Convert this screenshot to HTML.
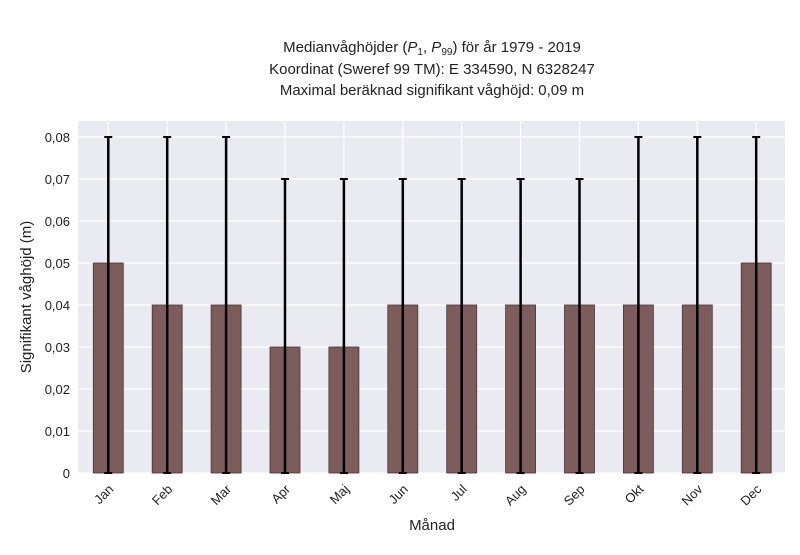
<!DOCTYPE html>
<html><head><meta charset="utf-8"><style>
body{margin:0;background:#fff;}
svg text{font-family:"Liberation Sans",sans-serif;fill:#222;}
</style></head><body>
<svg id="chart" width="800" height="550" xmlns="http://www.w3.org/2000/svg">
<rect x="78" y="121" width="707" height="352" fill="#eaeaf2"/>
<g id="grid"></g><g id="bars"></g><g id="errs"></g><g id="yticks"></g><g id="xticks"></g>
<text x="432" y="52" font-size="15" text-anchor="middle">Medianvåghöjder (<tspan font-style="italic">P</tspan><tspan font-size="10" dy="3">1</tspan><tspan dy="-3">, </tspan><tspan font-style="italic">P</tspan><tspan font-size="10" dy="3">99</tspan><tspan dy="-3">) för år 1979 - 2019</tspan></text>
<text x="432" y="74" font-size="15" text-anchor="middle">Koordinat (Sweref 99 TM): E 334590, N 6328247</text>
<text x="432" y="95" font-size="15" text-anchor="middle">Maximal beräknad signifikant våghöjd: 0,09 m</text>
<text transform="translate(31,297) rotate(-90)" font-size="15" text-anchor="middle">Signifikant våghöjd (m)</text>
<text x="432" y="530" font-size="15" text-anchor="middle">Månad</text>
</svg>
<script>
const months=["Jan","Feb","Mar","Apr","Maj","Jun","Jul","Aug","Sep","Okt","Nov","Dec"];
const medians=[0.05,0.04,0.04,0.03,0.03,0.04,0.04,0.04,0.04,0.04,0.04,0.05];
const p99=[0.08,0.08,0.08,0.07,0.07,0.07,0.07,0.07,0.07,0.08,0.08,0.08];
const p1=[0,0,0,0,0,0,0,0,0,0,0,0];
const yTicks=[0,0.01,0.02,0.03,0.04,0.05,0.06,0.07,0.08];
const NS="http://www.w3.org/2000/svg";
const y=v=>473-v*4200;
const x=i=>108.3+i*58.9;
function mk(t,a,p){const e=document.createElementNS(NS,t);for(const k in a)e.setAttribute(k,a[k]);document.getElementById(p).appendChild(e);return e;}
yTicks.forEach(v=>{
 const g=mk("line",{x1:78,x2:785,y1:y(v),y2:y(v),stroke:"#fff","stroke-width":1.2},"grid");
 
 
 const t=mk("text",{x:70,y:y(v)+5,"font-size":13,"text-anchor":"end"},"yticks");
 t.textContent=v===0?"0":v.toFixed(2).replace(".",",");
 
 
});
months.forEach((m,i)=>{
 const g=mk("line",{x1:x(i),x2:x(i),y1:121,y2:473,stroke:"#fff","stroke-width":1.2},"grid");
 
 
 const b=mk("rect",{x:x(i)-15,y:y(medians[i]),width:30,height:473-y(medians[i]),fill:"#7d5c5c",stroke:"#4a3636","stroke-width":0.8},"bars");
 
 
 const e=mk("line",{x1:x(i),x2:x(i),y1:y(p99[i]),y2:y(p1[i]),stroke:"#000","stroke-width":2.5},"errs");
 
 
 [p99[i],p1[i]].forEach(v=>{
  const c=mk("line",{x1:x(i)-4,x2:x(i)+4,y1:y(v),y2:y(v),stroke:"#000","stroke-width":2},"errs");
  
  
 });
 const t=mk("text",{transform:`translate(${x(i)+6},${490}) rotate(-45)`,"font-size":13,"text-anchor":"end"},"xticks");
 t.textContent=m;
 
 
});
</script>
</body></html>
